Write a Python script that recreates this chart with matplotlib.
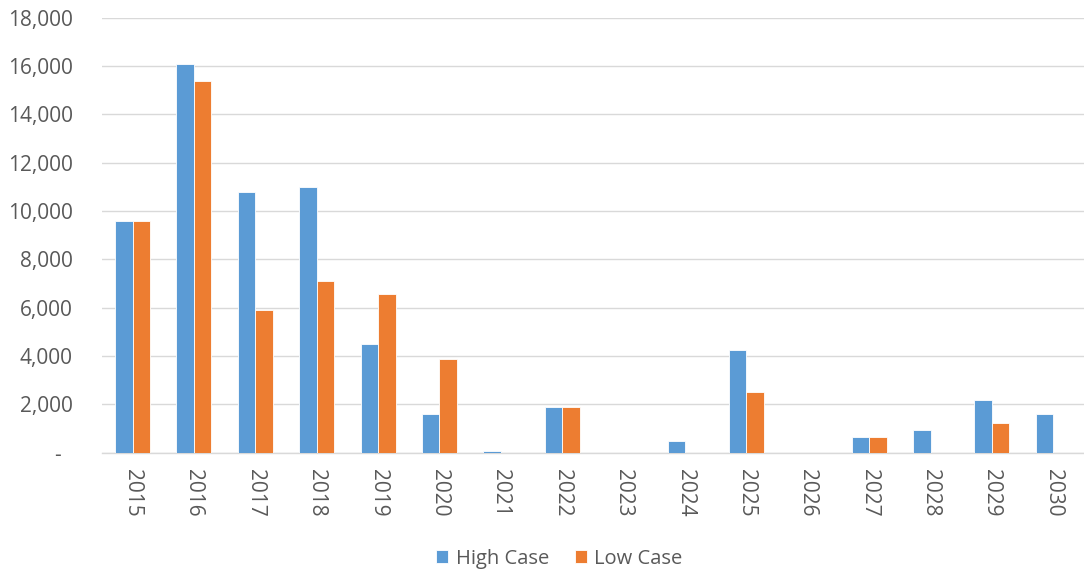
import matplotlib
matplotlib.use("Agg")
import matplotlib.pyplot as plt
import numpy as np
from matplotlib.ticker import FuncFormatter, MultipleLocator

years = ["2015", "2016", "2017", "2018", "2019", "2020", "2021", "2022",
         "2023", "2024", "2025", "2026", "2027", "2028", "2029", "2030"]
high_case = [9600, 16100, 10800, 11000, 4500, 1600, 60, 1900,
             0, 480, 4250, 0, 650, 960, 2180, 1600]
low_case = [9600, 15400, 5900, 7100, 6550, 3880, 0, 1900,
            0, 0, 2500, 0, 650, 0, 1230, 0]

plt.rcParams['font.family'] = ['Open Sans', 'DejaVu Sans']

fig = plt.figure(figsize=(10.84, 5.71), dpi=100)
ax = fig.add_axes([0.094, 0.207, 0.906, 0.762])

x = np.arange(len(years))
w = 0.285
blue = "#5B9BD5"
orange = "#ED7D31"
ax.bar(x - w / 2, high_case, w, color=blue, edgecolor="white", linewidth=0.6,
       label="High Case", zorder=3)
ax.bar(x + w / 2, low_case, w, color=orange, edgecolor="white", linewidth=0.6,
       label="Low Case", zorder=3)

ax.set_xlim(-0.5, len(years) - 0.5)
ax.set_ylim(0, 18000)
ax.yaxis.set_major_locator(MultipleLocator(2000))
ax.yaxis.set_major_formatter(FuncFormatter(lambda v, p: "-  " if v == 0 else f"{int(v):,}"))
ax.grid(axis="y", color="#D9D9D9", linewidth=1.0, zorder=0)
for s in ["top", "right", "left"]:
    ax.spines[s].set_visible(False)
ax.spines["bottom"].set_color("#D9D9D9")
ax.spines["bottom"].set_linewidth(1.0)
ax.tick_params(axis="both", length=0, colors="#595959", labelsize=15)
ax.tick_params(axis="y", pad=21)
ax.set_xticks(x)
ax.set_xticklabels(years, rotation=-90, va="top", ha="center")
ax.tick_params(axis="x", pad=12)

leg = fig.legend(loc="lower center", bbox_to_anchor=(0.516, -0.028), ncol=2,
                 frameon=False, fontsize=14.5, handlelength=0.6, handleheight=0.6,
                 columnspacing=1.3, handletextpad=0.35, labelcolor="#595959")

fig.savefig("out.png", dpi=100)
